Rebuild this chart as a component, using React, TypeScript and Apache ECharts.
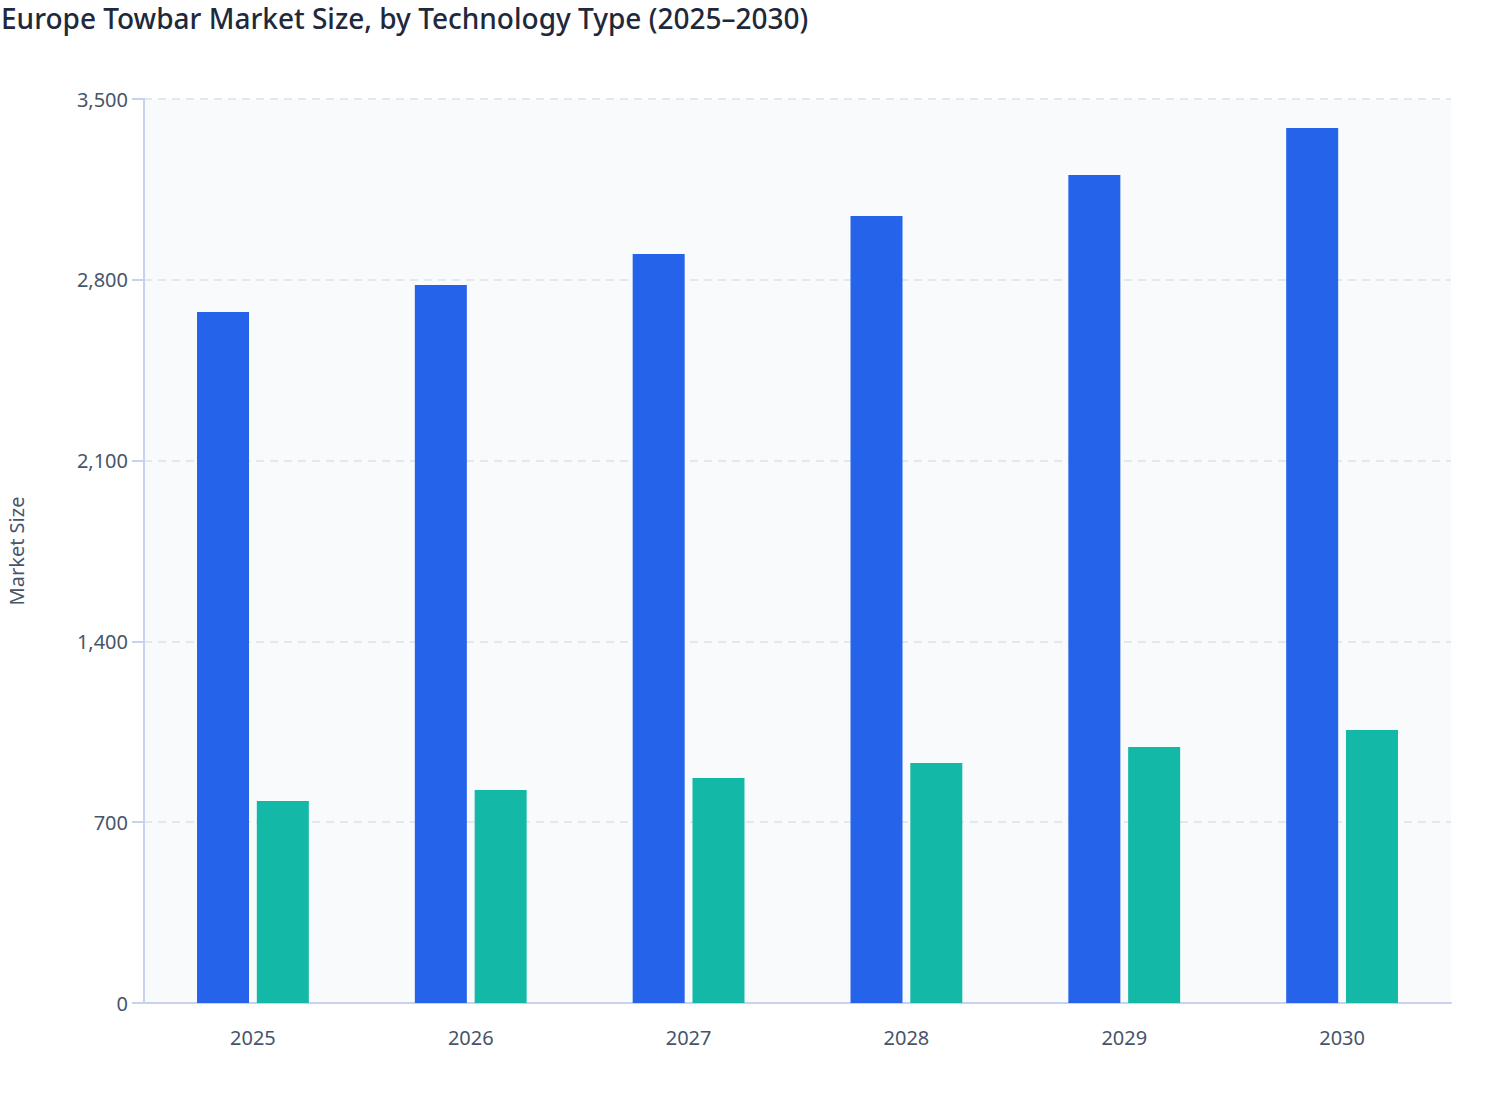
import React, { useEffect, useRef } from 'react'
import * as echarts from 'echarts'

const years = ['2025', '2026', '2027', '2028', '2029', '2030']
const conventional = [2675, 2780, 2900, 3047, 3206, 3388]
const electric = [782, 825, 871, 929, 991, 1057]

const FONT = '"Noto Sans", "Open Sans", sans-serif'

const App: React.FC = () => {
  const chartRef = useRef<HTMLDivElement>(null)

  useEffect(() => {
    if (!chartRef.current) return
    const chart = echarts.init(chartRef.current, undefined, { renderer: 'svg' })

    const option: any = {
      animation: false,
      textStyle: { fontFamily: FONT },
      title: {
        text: 'Europe Towbar Market Size, by Technology Type (2025–2030)',
        left: -4,
        top: -1,
        textStyle: {
          fontFamily: FONT,
          fontSize: 28,
          fontWeight: 500,
          color: '#1e293b'
        }
      },
      grid: {
        left: 144,
        right: 57,
        top: 99,
        bottom: 117,
        show: true,
        containLabel: false,
        outerBoundsMode: 'none',
        backgroundColor: '#f8fafc',
        borderWidth: 0
      },
      xAxis: {
        type: 'category',
        data: years,
        axisLine: { lineStyle: { color: '#c7d2ee', width: 2 } },
        axisTick: { alignWithLabel: true, length: 11, lineStyle: { color: '#c7d2ee', width: 2 } },
        axisLabel: { color: '#475569', fontSize: 20, margin: 24, fontFamily: FONT },
        splitLine: { show: false }
      },
      yAxis: {
        type: 'value',
        min: 0,
        max: 3500,
        interval: 700,
        name: 'Market Size',
        nameLocation: 'middle',
        nameGap: 118,
        nameRotate: 90,
        nameTextStyle: { color: '#475569', fontSize: 20, fontFamily: FONT },
        axisLine: { show: true, lineStyle: { color: '#c7d2ee', width: 2 } },
        axisTick: { show: true, length: 12, lineStyle: { color: '#c7d2ee', width: 2 } },
        axisLabel: { color: '#475569', fontSize: 20, margin: 16, fontFamily: FONT },
        splitLine: { lineStyle: { color: '#e2e8f0', type: [8, 6], width: 2 } }
      },
      series: [
        {
          name: 'Conventional',
          type: 'bar',
          data: conventional,
          barWidth: 52,
          barGap: '15%',
          itemStyle: { color: '#2563eb' }
        },
        {
          name: 'Electric',
          type: 'bar',
          data: electric,
          barWidth: 52,
          itemStyle: { color: '#14b8a6' }
        }
      ]
    }

    chart.setOption(option)
    return () => chart.dispose()
  }, [])

  return (
    <div
      ref={chartRef}
      style={{ position: 'absolute', left: 0, top: 0, width: 1508, height: 1120, background: '#fff' }}
    />
  )
}

export default App
